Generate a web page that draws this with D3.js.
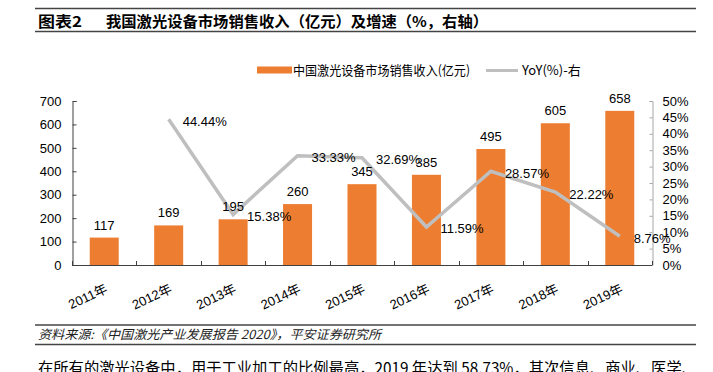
<!DOCTYPE html>
<html><head><meta charset="utf-8">
<script src="https://cdn.jsdelivr.net/npm/d3@7/dist/d3.min.js"></script>
<style>
html,body{margin:0;padding:0;background:#fff;}
svg{display:block;font-family:"Liberation Sans",Arial,"Noto Sans CJK SC",sans-serif;}
</style></head>
<body>
<svg id="c" width="713" height="372"></svg>
<script>
const categories = ["2011年","2012年","2013年","2014年","2015年","2016年","2017年","2018年","2019年"];
const sales = [117,169,195,260,345,385,495,605,658];
const yoyCategories = ["2012年","2013年","2014年","2015年","2016年","2017年","2018年","2019年"];
const yoy = [44.44,15.38,33.33,32.69,11.59,28.57,22.22,8.76];
const leftTicks = [0,100,200,300,400,500,600,700];
const rightTicks = [0,5,10,15,20,25,30,35,40,45,50];
const titleText = "图表2";
const titleMain = "我国激光设备市场销售收入（亿元）及增速（%，右轴）";
const legendBar = "中国激光设备市场销售收入(亿元)";
const legendLine = "YoY(%)-右";
const sourceText = "资料来源:《中国激光产业发展报告 2020》，平安证券研究所";
const bodyText = "在所有的激光设备中，用于工业加工的比例最高，2019 年达到 58.73%，其次信息、商业、医学、";

const svg = d3.select("#c");
const CJK = "\"Noto Sans CJK SC\",\"Liberation Sans\",sans-serif";
const orange = "#ED7D31", gray = "#BFBFBF";

// header rules and title
svg.append("line").attr("x1",35).attr("x2",696).attr("y1",8.5).attr("y2",8.5).attr("stroke","#444").attr("stroke-width",1.6);
svg.append("line").attr("x1",35).attr("x2",696).attr("y1",31.5).attr("y2",31.5).attr("stroke","#444").attr("stroke-width",1.6);
svg.append("text").attr("x",38).attr("y",26.5).attr("font-size",15).attr("font-weight","bold").style("font-family",CJK)
  .attr("textLength",44).attr("lengthAdjust","spacingAndGlyphs").text(titleText);
svg.append("text").attr("x",106).attr("y",26.5).attr("font-size",15).attr("font-weight","bold").style("font-family",CJK)
  .attr("textLength",382).attr("lengthAdjust","spacingAndGlyphs").text(titleMain);

// scales
const x = d3.scaleBand().domain(categories).range([72,652]).paddingInner(0.55).paddingOuter(0.275);
const yL = d3.scaleLinear().domain([0,700]).range([265,101]);
const yR = d3.scaleLinear().domain([0,50]).range([265,101]);
const cx = c => x(c) + x.bandwidth()/2;

// bars
svg.append("g").selectAll("rect").data(sales).join("rect")
  .attr("x",(d,i)=>x(categories[i])).attr("width",x.bandwidth())
  .attr("y",d=>yL(d)).attr("height",d=>yL(0)-yL(d)).attr("fill",orange);

// left axis
const gL = svg.append("g").attr("transform","translate(72.5,0)")
  .call(d3.axisLeft(yL).tickValues(leftTicks).tickSize(-4).tickPadding(11));
gL.selectAll("path,line").attr("stroke","#404040");
gL.selectAll("text").attr("font-size",13).attr("fill","#000").style("font-family","\"Liberation Sans\",Arial,sans-serif");

// right axis
const gR = svg.append("g").attr("transform","translate(652.5,0)")
  .call(d3.axisRight(yR).tickValues(rightTicks).tickSize(-3).tickPadding(10).tickFormat(d=>d+"%"));
gR.selectAll("path,line").attr("stroke","#A6A6A6");
gR.selectAll("text").attr("font-size",13).attr("fill","#000").style("font-family","\"Liberation Sans\",Arial,sans-serif");

// x axis line with boundary ticks
const gX = svg.append("g");
gX.append("line").attr("x1",72).attr("x2",652).attr("y1",yL(0)+0.5).attr("y2",yL(0)+0.5).attr("stroke","#404040");
const bounds = d3.range(categories.length+1).map(i => x.range()[0] + i*x.step());
gX.selectAll("line.t").data(bounds).join("line").attr("class","t")
  .attr("x1",d=>Math.round(d)+0.5).attr("x2",d=>Math.round(d)+0.5).attr("y1",yL(0)-4).attr("y2",yL(0)).attr("stroke","#404040");
gX.selectAll("text").data(categories).join("text")
  .attr("transform",d=>`translate(${cx(d)+4},292) rotate(-25)`)
  .attr("text-anchor","end").attr("font-size",13).attr("fill","#000").text(d=>d);

// YoY line
const line = d3.line().x((d,i)=>cx(yoyCategories[i])).y(d=>yR(d));
svg.append("path").datum(yoy).attr("d",line).attr("fill","none").attr("stroke",gray).attr("stroke-width",3.5);

// bar labels
svg.append("g").selectAll("text").data(sales).join("text")
  .attr("x",(d,i)=>cx(categories[i])).attr("y",d=>yL(d)-8)
  .attr("text-anchor","middle").attr("font-size",13).attr("fill","#000").text(d=>d);

// yoy labels
svg.append("g").selectAll("text").data(yoy).join("text")
  .attr("x",(d,i)=>cx(yoyCategories[i])+14).attr("y",d=>yR(d)+6.5)
  .attr("font-size",13).attr("fill","#000").text(d=>d.toFixed(2)+"%");

// legend
svg.append("rect").attr("x",257).attr("y",66.5).attr("width",35).attr("height",7).attr("fill",orange);
svg.append("text").attr("x",293).attr("y",75).attr("font-size",13).style("font-family",CJK)
  .attr("textLength",177).attr("lengthAdjust","spacingAndGlyphs").text(legendBar);
svg.append("line").attr("x1",486).attr("x2",518).attr("y1",70.5).attr("y2",70.5).attr("stroke",gray).attr("stroke-width",3);
svg.append("text").attr("x",522).attr("y",75).attr("font-size",13).style("font-family",CJK).text(legendLine);

// source
svg.append("line").attr("x1",35).attr("x2",696).attr("y1",325).attr("y2",325).attr("stroke","#444").attr("stroke-width",1.6);
svg.append("line").attr("x1",35).attr("x2",696).attr("y1",344.5).attr("y2",344.5).attr("stroke","#444").attr("stroke-width",1.6);
svg.append("text").attr("x",38).attr("y",339).attr("font-size",12.5).attr("font-style","italic").attr("fill","#222").style("font-family",CJK)
  .attr("textLength",343).attr("lengthAdjust","spacingAndGlyphs").text(sourceText);

// body paragraph (cut at bottom, as in the reference)
svg.append("text").attr("x",38).attr("y",374).attr("font-size",15.5).attr("fill","#000").style("font-family",CJK)
  .attr("textLength",659).attr("lengthAdjust","spacingAndGlyphs").text(bodyText);
</script>
</body></html>
